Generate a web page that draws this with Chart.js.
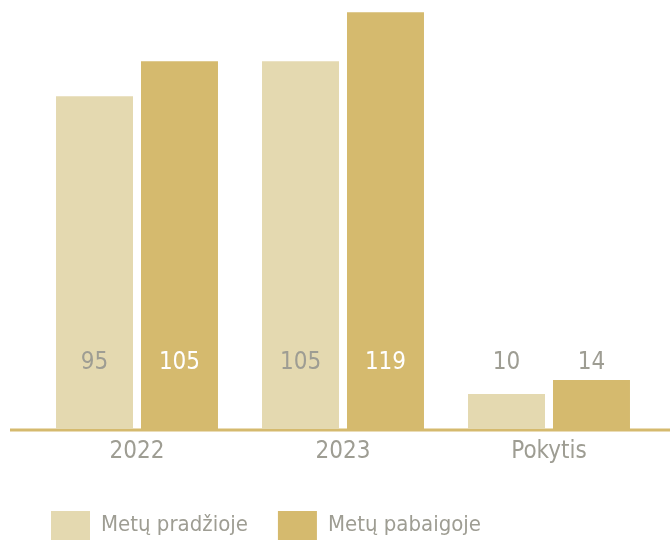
<!DOCTYPE html>
<html>
<head>
<meta charset="utf-8">
<script src="https://cdn.jsdelivr.net/npm/chart.js@4/dist/chart.umd.min.js"></script>
<style>
  body { margin: 0; background: #fff; }
  #wrap { width: 670px; height: 540px; }
</style>
</head>
<body>
<div id="wrap"><canvas id="myChart"></canvas></div>
<script>
let labels = ['2022', '2023', 'Pokytis'];
let seriesNames = ['Metų pradžioje', 'Metų pabaigoje'];
let startValues = [95, 105, 10];
let endValues = [105, 119, 14];
let colors = ['#e4d9b0', '#d5ba6e'];

let gray = '#9e9d93';
let fontFamily = "'Liberation Sans Narrow', 'DejaVu Sans Condensed', 'Roboto Condensed', sans-serif";

// gold baseline across the whole width
let baseline = {
    id: 'baseline',
    beforeDatasetsDraw(chart) {
        let ctx = chart.ctx;
        let y = chart.chartArea.bottom + 1;
        ctx.save();
        ctx.strokeStyle = colors[1];
        ctx.lineWidth = 3;
        ctx.beginPath();
        ctx.moveTo(10, y);
        ctx.lineTo(chart.width, y);
        ctx.stroke();
        ctx.restore();
    }
};

// value labels at a fixed height near the bottom
let valueLabels = {
    id: 'valueLabels',
    afterDatasetsDraw(chart) {
        let ctx = chart.ctx;
        let yScale = chart.scales.y;
        let y = yScale.getPixelForValue(19);
        ctx.save();
        ctx.font = '300 24px ' + fontFamily;
        ctx.textAlign = 'center';
        ctx.textBaseline = 'middle';
        chart.data.datasets.forEach((ds, i) => {
            chart.getDatasetMeta(i).data.forEach((bar, j) => {
                let v = ds.data[j];
                ctx.fillStyle = (i === 1 && v > 20) ? '#ffffff' : gray;
                ctx.fillText(String(v), bar.x, y);
            });
        });
        ctx.restore();
    }
};

let chart = new Chart(document.getElementById('myChart').getContext('2d'), {
    type: 'bar',
    data: {
        labels: labels,
        datasets: [{
            label: seriesNames[0],
            data: startValues,
            backgroundColor: colors[0]
        }, {
            label: seriesNames[1],
            data: endValues,
            backgroundColor: colors[1]
        }]
    },
    options: {
        responsive: true,
        maintainAspectRatio: false,
        animation: false,
        categoryPercentage: 0.825,
        barPercentage: 0.906,
        layout: { padding: { left: 21, right: 18, top: 0, bottom: -10 } },
        scales: {
            x: {
                grid: { display: false },
                border: { display: false },
                ticks: { color: gray, padding: 0, font: { family: fontFamily, size: 24, weight: 300 } },
                afterFit(scale) { scale.height = 52; }
            },
            y: {
                min: 0,
                max: 122.5,
                grid: { display: false },
                border: { display: false },
                ticks: { display: false },
                afterFit(scale) { scale.width = 13; }
            }
        },
        plugins: {
            tooltip: { enabled: false },
            legend: {
                position: 'bottom',
                align: 'start',
                labels: {
                    boxWidth: 39,
                    boxHeight: 29,
                    padding: 30,
                    color: gray,
                    font: { family: fontFamily, size: 22, weight: 300 }
                }
            }
        }
    },
    plugins: [baseline, valueLabels]
});
</script>
</body>
</html>
